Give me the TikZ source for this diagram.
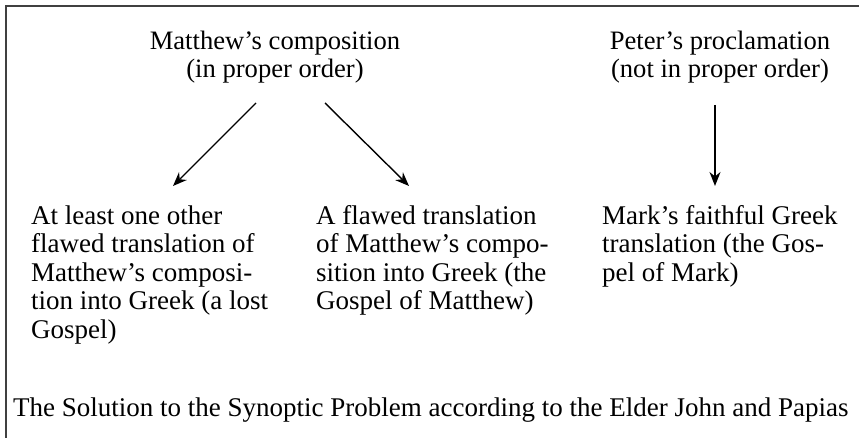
\documentclass[tikz,border=0pt]{standalone}
\usepackage{fontspec}
\setmainfont{Liberation Serif}
\usetikzlibrary{arrows.meta}
\begin{document}
\begin{tikzpicture}[x=1pt,y=-1pt,
  txt/.style={font=\fontsize{27}{28.5}\selectfont, inner sep=0pt, align=left, anchor=base west},
  ctr/.style={font=\fontsize{26.6}{28.5}\selectfont, inner sep=0pt, align=center, anchor=base},
  arr/.style={-{Stealth[length=14pt,width=11pt,inset=4.5pt]}, line width=1.4pt},
  frame/.style={draw=black!75, line width=1.6pt}]
\useasboundingbox (0,0) rectangle (859,438);
\draw[frame] (6,438) -- (6,6) -- (859,6);
% base anchor = baseline of last line
\node[ctr] (mat) at (275,78) {Matthew’s composition\\(in proper order)};
\node[ctr] (pet) at (720,78) {Peter’s proclamation\\(not in proper order)};
\node[txt] (left) at (31,338) {At least one other\\flawed translation of\\Matthew’s composi-\\tion into Greek (a lost\\Gospel)};
\node[txt] (mid) at (316,309.5) {A flawed translation\\of Matthew’s compo-\\sition into Greek (the\\Gospel of Matthew)};
\node[txt] (mark) at (602,281) {Mark’s faithful Greek\\translation (the Gos-\\pel of Mark)};
\node[txt] (cap) at (13,416) {The Solution to the Synoptic Problem according to the Elder John and Papias};
\draw[arr] ([xshift=-19pt,yshift=-25pt]mat.base) -- ([xshift=142pt,yshift=152pt]left.base west);
\draw[arr] ([xshift=50pt,yshift=-25pt]mat.base) -- ([xshift=93pt,yshift=123.5pt]mid.base west);
\draw[arr] ([xshift=-5pt,yshift=-27pt]pet.base) -- ([xshift=113pt,yshift=95pt]mark.base west);
\end{tikzpicture}
\end{document}
